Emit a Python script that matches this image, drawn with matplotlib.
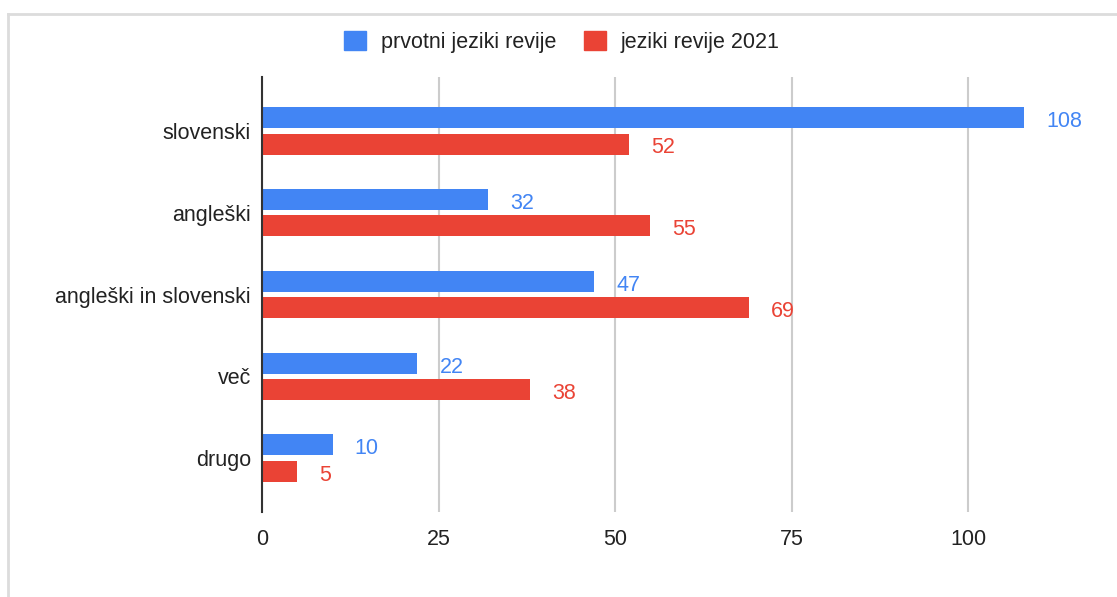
import matplotlib.pyplot as plt
from matplotlib.lines import Line2D

# data
categories = ['slovenski', 'angleški', 'angleški in slovenski', 'več', 'drugo']
prvotni = [108, 32, 47, 22, 10]
revije_2021 = [52, 55, 69, 38, 5]
series_names = ['prvotni jeziki revije', 'jeziki revije 2021']
x_ticks = [0, 25, 50, 75, 100]

blue = '#4285f4'
red = '#ea4335'
fs = 15.5

plt.rcParams['font.family'] = ['Liberation Sans', 'DejaVu Sans']

fig = plt.figure(figsize=(11.17, 5.97), dpi=100)
ax = fig.add_axes([262 / 1117, 85 / 597, 776.6 / 1117, 435 / 597])

ypos = list(range(len(categories)))
h = 0.256
off = 0.16
ax.barh([y - off for y in ypos], prvotni, height=h, color=blue, zorder=3)
ax.barh([y + off for y in ypos], revije_2021, height=h, color=red, zorder=3)

for y, v in zip(ypos, prvotni):
    ax.annotate(str(v), (v, y - off), xytext=(16, -1), textcoords='offset points',
                va='center_baseline', ha='left', color=blue, fontsize=fs)
for y, v in zip(ypos, revije_2021):
    ax.annotate(str(v), (v, y + off), xytext=(16, -1), textcoords='offset points',
                va='center_baseline', ha='left', color=red, fontsize=fs)

ax.set_xlim(0, 110)
ax.set_ylim(len(categories) - 1 + 0.66, -0.66)
ax.set_yticks(ypos)
ax.set_yticklabels(categories, fontsize=fs, color='#222222')
ax.set_xticks(x_ticks)
ax.set_xticklabels([str(t) for t in x_ticks], fontsize=fs, color='#222222')
ax.tick_params(axis='both', length=0)
ax.tick_params(axis='y', pad=8)
ax.tick_params(axis='x', pad=12)
ax.xaxis.grid(True, color='#cccccc', linewidth=1.5, zorder=0)
for s in ['top', 'right', 'bottom']:
    ax.spines[s].set_visible(False)
ax.spines['left'].set_color('#333333')
ax.spines['left'].set_linewidth(1.5)
ax.spines['left'].set_zorder(4)

# legend
handles = [plt.Rectangle((0, 0), 1, 1, color=blue), plt.Rectangle((0, 0), 1, 1, color=red)]
fig.legend(handles, series_names, loc='center', bbox_to_anchor=(562 / 1117, 1 - 42 / 597),
           ncol=2, frameon=False, fontsize=fs, handlelength=1.0, handleheight=1.0,
           columnspacing=1.3, handletextpad=0.7, labelcolor='#222222')

# outer border (top and left only)
fig.add_artist(Line2D([8 / 1117, 1], [1 - 14 / 597, 1 - 14 / 597], color='#dcdcdc', linewidth=2))
fig.add_artist(Line2D([8 / 1117, 8 / 1117], [0, 1 - 14 / 597], color='#dcdcdc', linewidth=2))

fig.savefig('out.png', dpi=100)
